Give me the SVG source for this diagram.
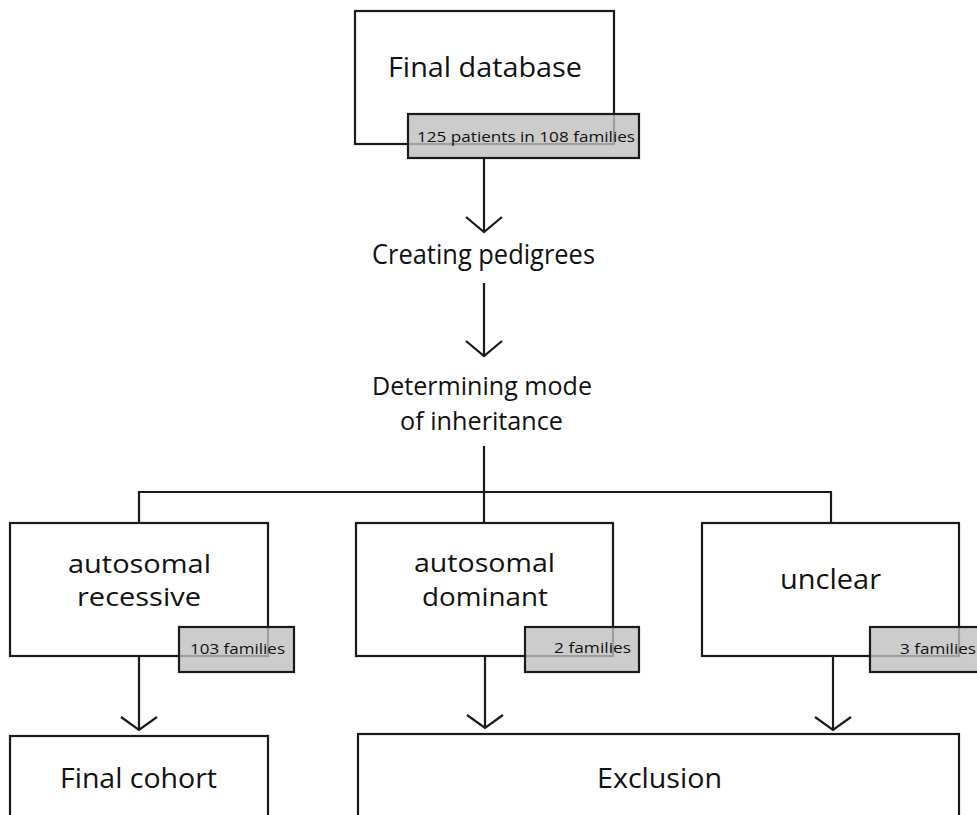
<svg xmlns="http://www.w3.org/2000/svg" width="977" height="815" viewBox="0 0 977 815">
<style>
.box{fill:#ffffff;stroke:#1a1a1a;stroke-width:2.2}
.tag{fill:#bfbfbf;fill-opacity:0.8;stroke:#1a1a1a;stroke-width:2.2}
.lbl{font-family:"Open Sans","Liberation Sans",sans-serif;font-size:27px;fill:#111111;text-anchor:middle}
.two{font-size:25px}
.sm{font-family:"Open Sans","Liberation Sans",sans-serif;font-size:15px;fill:#111111}
.ln{fill:none;stroke:#1a1a1a;stroke-width:2.2}
</style>
<rect width="977" height="815" fill="#ffffff"/>
<g id="connectors">
<line class="ln" x1="484" y1="158" x2="484" y2="232"/>
<polyline class="ln" points="466,217 484,232 502,217"/>
<line class="ln" x1="484" y1="283" x2="484" y2="356"/>
<polyline class="ln" points="466,341 484,356 502,341"/>
<line class="ln" x1="484" y1="446" x2="484" y2="523"/>
<line class="ln" x1="138" y1="492" x2="831" y2="492"/>
<line class="ln" x1="139" y1="491" x2="139" y2="523"/>
<line class="ln" x1="831" y1="491" x2="831" y2="523"/>
<line class="ln" x1="139" y1="656" x2="139" y2="730"/>
<polyline class="ln" points="121,717 139,730 157,717"/>
<line class="ln" x1="485" y1="656" x2="485" y2="728"/>
<polyline class="ln" points="467,715 485,728 503,715"/>
<line class="ln" x1="833" y1="656" x2="833" y2="730"/>
<polyline class="ln" points="815,717 833,730 851,717"/>
</g>
<g id="final-database">
<rect class="box" x="355" y="11" width="259" height="133"/>
<text class="lbl" x="485" y="77" textLength="194" lengthAdjust="spacingAndGlyphs">Final database</text>
<rect class="tag" x="408" y="114" width="231" height="44"/>
<text class="sm" x="417" y="142" textLength="218" lengthAdjust="spacingAndGlyphs">125 patients in 108 families</text>
</g>
<g id="creating-pedigrees">
<text class="lbl" x="483.5" y="264" textLength="223" lengthAdjust="spacingAndGlyphs">Creating pedigrees</text>
</g>
<g id="determining-mode">
<text class="lbl two" x="482" y="395" textLength="220" lengthAdjust="spacingAndGlyphs">Determining mode</text>
<text class="lbl two" x="481.5" y="430" textLength="163" lengthAdjust="spacingAndGlyphs">of inheritance</text>
</g>
<g id="autosomal-recessive">
<rect class="box" x="10" y="523" width="258" height="133"/>
<text class="lbl two" x="139.5" y="573" textLength="143" lengthAdjust="spacingAndGlyphs">autosomal</text>
<text class="lbl two" x="139" y="606" textLength="124" lengthAdjust="spacingAndGlyphs">recessive</text>
<rect class="tag" x="179" y="627" width="115" height="45"/>
<text class="sm" x="190" y="654" textLength="95" lengthAdjust="spacingAndGlyphs">103 families</text>
</g>
<g id="autosomal-dominant">
<rect class="box" x="356" y="523" width="257" height="133"/>
<text class="lbl two" x="484.5" y="572" textLength="141" lengthAdjust="spacingAndGlyphs">autosomal</text>
<text class="lbl two" x="485" y="606" textLength="126" lengthAdjust="spacingAndGlyphs">dominant</text>
<rect class="tag" x="525" y="627" width="114" height="45"/>
<text class="sm" x="554" y="653" textLength="77" lengthAdjust="spacingAndGlyphs">2 families</text>
</g>
<g id="unclear">
<rect class="box" x="702" y="523" width="257" height="133"/>
<text class="lbl" x="830.5" y="589" textLength="101" lengthAdjust="spacingAndGlyphs">unclear</text>
<rect class="tag" x="870" y="627" width="115" height="45"/>
<text class="sm" x="900" y="654" textLength="76" lengthAdjust="spacingAndGlyphs">3 families</text>
</g>
<g id="final-cohort">
<rect class="box" x="10" y="736" width="258" height="100"/>
<text class="lbl" x="138.5" y="788" textLength="157" lengthAdjust="spacingAndGlyphs">Final cohort</text>
</g>
<g id="exclusion">
<rect class="box" x="358" y="734" width="601" height="100"/>
<text class="lbl" x="659.5" y="788" textLength="125" lengthAdjust="spacingAndGlyphs">Exclusion</text>
</g>
</svg>
